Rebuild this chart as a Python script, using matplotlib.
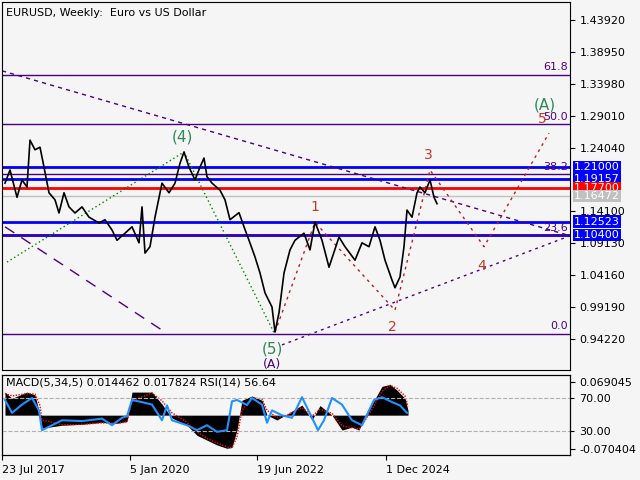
import numpy as np
import matplotlib.pyplot as plt

# weekly price path (week index, close)
wk = [3, 8, 15, 20, 25, 28, 33, 38, 42, 47, 53, 57, 62, 67, 73, 80, 87, 97, 103, 110,
      115, 123, 130, 137, 140, 143, 148, 153, 160, 167, 173, 178, 182, 187, 193, 198,
      202, 205, 210, 218, 223, 228, 237, 242, 247, 253, 258, 263, 270, 273, 277, 282,
      288, 293, 302, 308, 313, 320, 327, 337, 343, 353, 360, 367, 373, 378, 383, 390,
      393, 398, 402, 405, 410, 415, 418, 423, 428, 432, 435]
px = [1.185, 1.2055, 1.163, 1.190, 1.179, 1.252, 1.237, 1.241, 1.210, 1.170, 1.159,
      1.1385, 1.170, 1.148, 1.1385, 1.148, 1.132, 1.123, 1.128, 1.112, 1.096, 1.107,
      1.117, 1.092, 1.148, 1.076, 1.086, 1.132, 1.185, 1.170, 1.185, 1.216, 1.2335,
      1.210, 1.190, 1.210, 1.224, 1.195, 1.185, 1.174, 1.159, 1.128, 1.139, 1.117,
      1.096, 1.070, 1.045, 1.014, 0.992, 0.953, 0.983, 1.045, 1.081, 1.096, 1.107,
      1.081, 1.1245, 1.096, 1.054, 1.101, 1.086, 1.065, 1.092, 1.086, 1.117, 1.096,
      1.065, 1.034, 1.022, 1.039, 1.086, 1.143, 1.132, 1.170, 1.179, 1.170, 1.190,
      1.163, 1.153]

levels_blue = [1.21000, 1.19157, 1.12523, 1.10400]
level_red = 1.17700
level_gray = 1.16472
fib_vals = [1.3535, 1.277, 1.199, 1.104, 0.950]
fib_text = ["61.8", "50.0", "38.2", "23.6", "0.0"]
price_ticks = [1.43920, 1.38950, 1.33980, 1.29010, 1.24040, 1.14100, 1.09130,
               1.04160, 0.99190, 0.94220]

wave_x = [313, 393, 428, 482, 547]
wave_y = [1.124, 0.987, 1.2055, 1.086, 1.263]
green_x = [5, 182, 272]
green_y = [1.062, 1.2335, 0.952]

# indicator pane
m_wk = [3, 10, 25, 33, 38, 40, 60, 80, 100, 115, 125, 130, 150, 160, 170, 185, 195,
        205, 215, 225, 230, 235, 240, 250, 260, 265, 275, 285, 300, 310, 318, 330,
        340, 350, 357, 362, 370, 380, 388, 395, 403, 406]
macd = [0.048, 0.035, 0.048, 0.042, 0.0, -0.027, -0.021, -0.019, -0.015, -0.017,
        -0.013, 0.048, 0.048, 0.023, -0.006, -0.021, -0.042, -0.052, -0.062, -0.069,
        -0.067, -0.031, 0.031, 0.040, 0.031, 0.0, -0.010, 0.002, 0.021, -0.010, 0.020,
        0.0, -0.031, -0.025, -0.031, -0.006, 0.023, 0.060, 0.064, 0.052, 0.035, 0.010]
signal = [0.045, 0.040, 0.045, 0.044, 0.020, -0.010, -0.020, -0.019, -0.016, -0.017,
          -0.014, 0.030, 0.046, 0.030, 0.005, -0.015, -0.035, -0.048, -0.058, -0.066,
          -0.068, -0.045, 0.010, 0.036, 0.034, 0.010, -0.005, 0.0, 0.016, -0.002, 0.012,
          0.004, -0.022, -0.026, -0.029, -0.014, 0.012, 0.050, 0.062, 0.056, 0.040, 0.018]
r_wk = [3, 10, 20, 30, 37, 40, 50, 60, 80, 100, 110, 120, 125, 130, 140, 150, 160, 165,
        170, 185, 195, 205, 215, 225, 230, 235, 245, 250, 260, 265, 270, 280, 290, 300,
        310, 316, 322, 330, 340, 350, 360, 372, 380, 390, 398, 405]
rsi = [67.6, 52, 62, 70, 55, 31, 37, 43, 42, 45, 37, 46, 48, 67.6, 65, 62, 43, 61, 43,
       37, 31, 37, 29, 31, 66, 67.6, 61.5, 70, 62, 40, 55, 49, 46, 71, 46, 31, 43, 70,
       62, 43, 37, 67.6, 71, 65, 61, 52]

date_pos = [0, 128, 255, 384]
date_lab = ["23 Jul 2017", "5 Jan 2020", "19 Jun 2022", "1 Dec 2024"]

bg = "#f5f5f5"
fig = plt.figure(figsize=(6.4, 4.8), dpi=100, facecolor=bg)
ax = fig.add_axes([2/640, 1-370/480, 568/640, 368/480], facecolor=bg)
ax.set_xlim(0, 568)
ax.set_ylim(0.8939, 1.4672)

for v in levels_blue:
    ax.axhline(v, color="#0000ff", lw=2)
ax.axhline(level_red, color="red", lw=2)
ax.axhline(level_gray, color="#c0c0c0", lw=1)
for v, t in zip(fib_vals, fib_text):
    ax.axhline(v, color="#4b0082", lw=1)
    ax.text(566, v + 0.004, t, color="#4b0082", fontsize=8, ha="right", va="bottom")

ax.plot([0, 568], [1.360, 1.103], color="#4b0082", ls=(0, (3, 3)), lw=1)
ax.plot([3, 160], [1.117, 0.956], color="#4b0082", ls=(0, (8, 6)), lw=1)
ax.plot([280, 568], [0.933, 1.103], color="#4b0082", ls=(0, (2, 3)), lw=1)
ax.plot(green_x, green_y, color="green", ls=(0, (1, 2)), lw=1)
ax.plot([273] + wave_x, [0.953] + wave_y, color="#b22222", ls=(0, (2, 3)), lw=1)

ax.plot(wk, px, color="black", lw=1.2)

wc = "#c0392b"
ax.text(313, 1.141, "1", color=wc, fontsize=10, ha="center")
ax.text(390, 0.955, "2", color=wc, fontsize=10, ha="center")
ax.text(426, 1.222, "3", color=wc, fontsize=10, ha="center")
ax.text(480, 1.050, "4", color=wc, fontsize=10, ha="center")
ax.text(540, 1.278, "5", color=wc, fontsize=10, ha="center")
ax.text(543, 1.300, "(A)", color="#2e8b57", fontsize=11, ha="center")
ax.text(180, 1.250, "(4)", color="#2e8b57", fontsize=11, ha="center")
ax.text(270, 0.920, "(5)", color="#2e8b57", fontsize=11, ha="center")
ax.text(270, 0.897, "(A)", color="#4b0082", fontsize=9, ha="center")

ax.text(4, 1.450, "EURUSD, Weekly:  Euro vs US Dollar", fontsize=8, va="center")

ax.yaxis.tick_right()
ax.set_yticks(price_ticks)
ax.set_yticklabels([f"{v:.5f}" for v in price_ticks], fontsize=8)
ax.set_xticks([])
for v, c in zip(levels_blue + [level_red, level_gray],
                ["#0000ff"] * 4 + ["red", "#c0c0c0"]):
    ax.text(572, v, f"{v:.5f}", color="white", fontsize=8, va="center",
            ha="left", clip_on=False,
            bbox=dict(boxstyle="square,pad=0.1", fc=c, ec="none"))

axm = fig.add_axes([2/640, 25/480, 568/640, 80/480], facecolor=bg)
axm.set_xlim(0, 568)
axm.set_ylim(-0.0829, 0.0836)
axm.fill_between(m_wk, macd, 0, color="black", lw=0)
axm.plot(m_wk, signal, color="red", ls=(0, (1, 1)), lw=1)
axm.set_xticks(date_pos)
axm.set_xticklabels(date_lab, fontsize=8, ha="left")
axm.text(4, 0.068, "MACD(5,34,5) 0.014462 0.017824 RSI(14) 56.64", fontsize=8, va="center")

axr = axm.twinx()
axr.set_ylim(0.9, 97.9)
axr.axhline(70, color="#b0b0b0", ls="--", lw=0.8)
axr.axhline(30, color="#b0b0b0", ls="--", lw=0.8)
axr.plot(r_wk, rsi, color="#1e90ff", lw=1.5)
axr.set_yticks([70, 30])
axr.set_yticklabels(["70.00", "30.00"], fontsize=8)
axr.tick_params(axis="y", length=3)

axm.yaxis.set_ticks_position("right")
axm.yaxis.set_label_position("right")
axm.set_yticks([0.069045, -0.070404])
axm.set_yticklabels(["0.069045", "-0.070404"], fontsize=8)

plt.savefig("out.png", dpi=100, facecolor=bg)
